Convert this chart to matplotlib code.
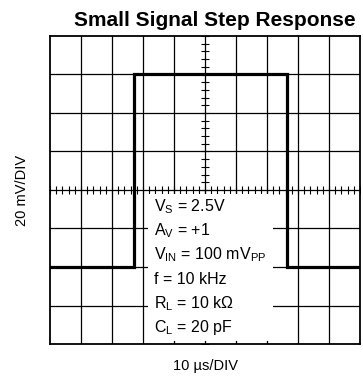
import numpy as np
import matplotlib
matplotlib.use("Agg")
import matplotlib.pyplot as plt
from matplotlib.patches import Rectangle

plt.rcParams['font.family'] = ['Liberation Sans', 'DejaVu Sans']
plt.rcParams['mathtext.fontset'] = 'custom'
plt.rcParams['mathtext.rm'] = 'Liberation Sans'
plt.rcParams['mathtext.it'] = 'Liberation Sans:italic'

# step response trace (time in us, output in mV)
t_us = [0, 27, 76.5, 100]
v_mv = [-40, 60, -40, -40]

conditions = [r"V$_{\rm S}$ = 2.5V",
              r"A$_{\rm V}$ = +1",
              r"V$_{\rm IN}$ = 100 mV$_{\rm PP}$",
              "f = 10 kHz",
              r"R$_{\rm L}$ = 10 k$\Omega$",
              r"C$_{\rm L}$ = 20 pF"]

fig = plt.figure(figsize=(3.63, 3.78), dpi=100)
ax = fig.add_axes([50 / 363, 1 - 344 / 378, 310 / 363, 308 / 378])
ax.set_xlim(0, 100)
ax.set_ylim(-80, 80)

# scope graticule
for x in np.arange(10, 100, 10):
    ax.axvline(x, color='k', lw=0.9, zorder=1)
for y in np.arange(-60, 80, 20):
    ax.axhline(y, color='k', lw=0.9, zorder=1)
ax.plot(np.arange(0, 101, 2), np.zeros(51), ls='none', marker='|',
        ms=6, mew=0.8, color='k', zorder=1)
ax.plot(np.full(41, 50), np.arange(-80, 81, 4), ls='none', marker='_',
        ms=6, mew=0.8, color='k', zorder=1)

# trace
ax.plot(t_us, v_mv, drawstyle='steps-post', color='k', lw=2.3,
        solid_joinstyle='miter', zorder=3)

# conditions block
ax.add_patch(Rectangle((31.6, -78.6), 40.4, 76.4, facecolor='white',
                       edgecolor='none', zorder=2))
for i, line in enumerate(conditions):
    ax.text(33.4, -8.5 - 12.6 * i, line, fontsize=11.5, va='center',
            ha='left', zorder=4)

ax.set_xticks([])
ax.set_yticks([])
for s in ax.spines.values():
    s.set_linewidth(1.3)
    s.set_zorder(5)

fig.text(215 / 363, 1 - 26 / 378, "Small Signal Step Response",
         fontsize=15, fontweight='bold', ha='center', va='baseline')
fig.text(22 / 363, 1 - 190 / 378, "20 mV/DIV", fontsize=10.5,
         rotation=90, ha='center', va='center')
fig.text(205 / 363, 1 - 366 / 378, "10 \u00b5s/DIV", fontsize=10.5,
         ha='center', va='center')

fig.savefig("out.png", dpi=100)
